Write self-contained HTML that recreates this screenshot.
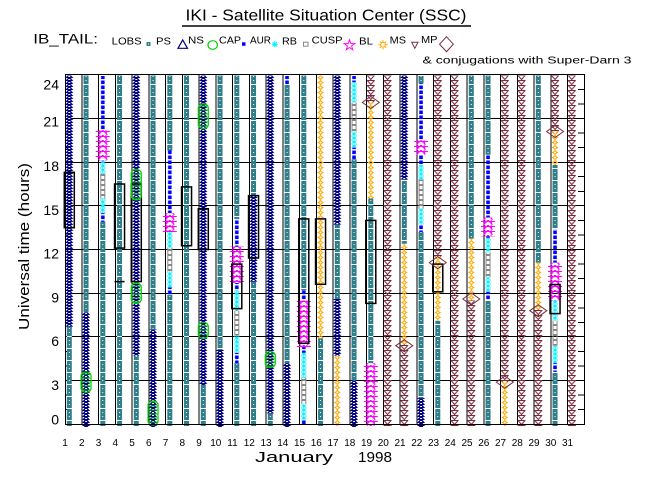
<!DOCTYPE html>
<html><head><meta charset="utf-8"><style>
html,body{margin:0;padding:0;background:#fff;}
svg{display:block}
.lo{stroke:url(#lo);stroke-width:5;fill:none}
.ns{stroke:url(#ns);stroke-width:8;fill:none}
.au{stroke:url(#au);stroke-width:4;fill:none}
.rb{stroke:url(#rb);stroke-width:6;fill:none}
.cu{stroke:url(#cu);stroke-width:5;fill:none}
.bl{stroke:url(#bl);stroke-width:14;fill:none}
.ms{stroke:url(#ms);stroke-width:7;fill:none}
.mp{stroke:url(#mp);stroke-width:8;fill:none}
.cap{fill:url(#cp);stroke:#00d000;stroke-width:1.2}
.box{fill:none;stroke:#000;stroke-width:1.5}
.dm{fill:none;stroke:#7a2a3a;stroke-width:1}
text{font-family:"Liberation Sans",sans-serif;fill:#000}
</style></head><body>
<svg width="650" height="500" viewBox="0 0 650 500" xmlns="http://www.w3.org/2000/svg">
<defs>
<pattern id="lo" patternUnits="userSpaceOnUse" x="-2.5" y="0" width="5" height="12">
<rect width="5" height="12" fill="#2f7f8a"/><rect width="5" height="1" fill="#fff"/>
<rect x="2" y="4" width="1" height="1" fill="#fff"/><rect x="2" y="8" width="1" height="1" fill="#fff"/>
</pattern>
<pattern id="ns" patternUnits="userSpaceOnUse" x="-4" y="0" width="8" height="3">
<path d="M0,3 L2.5,0 H5.5 L8,3 Z" fill="#000080"/><rect x="3" y="1" width="2" height="1" fill="#fff"/>
</pattern>
<pattern id="au" patternUnits="userSpaceOnUse" x="-2" y="0" width="4" height="5">
<rect x="0.2" y="0.5" width="3.6" height="3.6" fill="#0000ff"/>
</pattern>
<pattern id="rb" patternUnits="userSpaceOnUse" x="-3" y="0" width="6" height="4">
<path d="M0.5,0.5 L5.5,3.5 M5.5,0.5 L0.5,3.5 M3,0 V4" stroke="#00eeff" stroke-width="1" fill="none"/>
</pattern>
<pattern id="cu" patternUnits="userSpaceOnUse" x="-2.5" y="0" width="5" height="5">
<rect x="0.5" y="0.5" width="4" height="4" fill="none" stroke="#888" stroke-width="1"/>
</pattern>
<pattern id="bl" patternUnits="userSpaceOnUse" x="-7" y="0" width="14" height="5">
<path d="M0,1.5 H14 M2.5,5 L7,0 L11.5,5 M4,0 L3,5 M10,0 L11,5" stroke="#ff00ff" stroke-width="1" fill="none"/>
</pattern>
<pattern id="ms" patternUnits="userSpaceOnUse" x="-3.5" y="0" width="7" height="5">
<circle cx="3.5" cy="2.5" r="1.5" fill="none" stroke="#ffaa00" stroke-width="1"/>
<path d="M3.5,0 V1 M3.5,4 V5 M0.5,2.5 H2 M5,2.5 H6.5" stroke="#ffaa00" stroke-width="1"/>
</pattern>
<pattern id="mp" patternUnits="userSpaceOnUse" x="-4" y="0" width="8" height="5">
<path d="M0.5,0.5 H7.5 L4,4.5 Z" fill="none" stroke="#7a2a3a" stroke-width="1"/>
<path d="M4,4.5 V5" stroke="#7a2a3a" stroke-width="1"/>
</pattern>
<pattern id="cp" patternUnits="userSpaceOnUse" x="0" y="0" width="10" height="4">
<rect y="1.5" width="10" height="1" fill="#00d000"/>
</pattern>
</defs>

<!-- title -->
<text x="185.5" y="20.7" font-size="16" textLength="281" lengthAdjust="spacingAndGlyphs">IKI - Satellite Situation Center (SSC)</text>
<path d="M182,26H471" stroke="#000" stroke-width="1.5"/>
<text x="33.3" y="43.3" font-size="14" textLength="64.7" lengthAdjust="spacingAndGlyphs">IB_TAIL:</text>

<!-- legend -->
<g font-size="10">
<text x="111.7" y="44.3" textLength="30" lengthAdjust="spacingAndGlyphs">LOBS</text>
<text x="156" y="44.3" textLength="15" lengthAdjust="spacingAndGlyphs">PS</text>
<text x="188" y="43.3" textLength="16" lengthAdjust="spacingAndGlyphs">NS</text>
<text x="219" y="43.3" textLength="22" lengthAdjust="spacingAndGlyphs">CAP</text>
<text x="250" y="43.3" textLength="21" lengthAdjust="spacingAndGlyphs">AUR</text>
<text x="282" y="44.3" textLength="15" lengthAdjust="spacingAndGlyphs">RB</text>
<text x="311.7" y="43.3" textLength="30.8" lengthAdjust="spacingAndGlyphs">CUSP</text>
<text x="359" y="44.3" textLength="14" lengthAdjust="spacingAndGlyphs">BL</text>
<text x="389.6" y="43.3" textLength="16.4" lengthAdjust="spacingAndGlyphs">MS</text>
<text x="421" y="42.8" textLength="16.5" lengthAdjust="spacingAndGlyphs">MP</text>
<text x="422.5" y="63.5" textLength="209" lengthAdjust="spacingAndGlyphs">&amp; conjugations with Super-Darn 3</text>
</g>
<rect x="146.5" y="42" width="4" height="4" fill="#2f7f8a"/><rect x="148" y="43.5" width="1" height="1" fill="#fff"/>
<path d="M178,48.3 L182.7,40 L187.5,48.3 Z" fill="none" stroke="#000080" stroke-width="1.2"/>
<ellipse cx="212.7" cy="45" rx="4.7" ry="4.3" fill="none" stroke="#00d000" stroke-width="1.2"/>
<rect x="242" y="42.3" width="3.5" height="3.5" fill="#0000ff"/>
<path d="M271.8,44.3H277.8 M274.8,41.3V47.3 M272.6,42.1 L277,46.5 M277,42.1 L272.6,46.5" stroke="#00eeff" stroke-width="1"/>
<rect x="303.5" y="42.2" width="4.5" height="4" fill="none" stroke="#888" stroke-width="1"/>
<path d="M349.5,39.8 L350.79,43.52 L354.73,43.6 L351.59,45.98 L352.73,49.75 L349.5,47.5 L346.27,49.75 L347.41,45.98 L344.27,43.6 L348.21,43.52 Z" fill="none" stroke="#ff00ff" stroke-width="1"/>
<circle cx="383" cy="44.7" r="2.3" fill="none" stroke="#ffaa00" stroke-width="1"/>
<path d="M383,40V42 M383,47.4V49.4 M378.3,44.7H380.5 M385.5,44.7H387.7 M379.8,41.5L381.2,42.9 M384.8,46.5L386.2,47.9 M386.2,41.5L384.8,42.9 M381.2,46.5L379.8,47.9" stroke="#ffaa00" stroke-width="1"/>
<path d="M411.7,42.3 H418 L414.8,48.3 Z" fill="none" stroke="#7a2a3a" stroke-width="1"/>
<path d="M439.6,44.2 L446.5,36.7 L453.3,44.2 L446.5,51.7 Z" fill="none" stroke="#7a2a3a" stroke-width="1"/>

<!-- grid -->
<g stroke="#000" stroke-width="1" shape-rendering="crispEdges" fill="none">
<path d="M65,118.5H584 M65,162.5H584 M65,205.5H584 M65,249.5H584 M65,293.5H584 M65,336.5H584 M65,380.5H584"/>
<path d="M81.75,74.5V424.5 M98.5,74.5V424.5 M115.25,74.5V424.5 M132,74.5V424.5 M148.75,74.5V424.5 M165.5,74.5V424.5 M182.25,74.5V424.5 M199,74.5V424.5 M215.75,74.5V424.5 M232.5,74.5V424.5 M249.25,74.5V424.5 M266,74.5V424.5 M282.75,74.5V424.5 M299.5,74.5V424.5 M316.25,74.5V424.5 M333,74.5V424.5 M349.75,74.5V424.5 M366.5,74.5V424.5 M383.25,74.5V424.5 M400,74.5V424.5 M416.75,74.5V424.5 M433.5,74.5V424.5 M450.25,74.5V424.5 M467,74.5V424.5 M483.75,74.5V424.5 M500.5,74.5V424.5 M517.25,74.5V424.5 M534,74.5V424.5 M550.75,74.5V424.5 M567.5,74.5V424.5"/>
<path d="M65,409.7H71 M65,395.2H71 M65,366H71 M65,351.5H71 M65,322.4H71 M65,307.8H71 M65,278.7H71 M65,264.1H71 M65,235H71 M65,220.4H71 M65,191.3H71 M65,176.7H71 M65,147.6H71 M65,133H71 M65,103.9H71 M65,89.3H71"/>
<path d="M578,409.7H584 M578,395.2H584 M578,366H584 M578,351.5H584 M578,322.4H584 M578,307.8H584 M578,278.7H584 M578,264.1H584 M578,235H584 M578,220.4H584 M578,191.3H584 M578,176.7H584 M578,147.6H584 M578,133H584 M578,103.9H584 M578,89.3H584"/>
</g>

<!-- data columns -->
<g transform="translate(69.3,0)"><path class="ns" d="M0,75.5V326.7"/><path class="lo" d="M0,326.7V426"/><rect class="box" x="-5" y="172.3" width="10" height="55.4"/></g>
<g transform="translate(86.05,0)"><path class="lo" d="M0,75.5V312.2"/><path class="ns" d="M0,312.2V427"/><rect class="cap" x="-5" y="371.9" width="10" height="20.4" rx="5" ry="4"/></g>
<g transform="translate(102.8,0)"><path class="au" d="M0,76V130.1M0,213.1V221.9"/><path class="bl" d="M0,130.1V160.7"/><path class="rb" d="M0,160.7V173.8M0,198.5V213.1"/><path class="cu" d="M0,173.8V198.5"/><path class="lo" d="M0,221.9V426"/></g>
<g transform="translate(119.55,0)"><path class="lo" d="M0,75.5V426"/><rect class="box" x="-5" y="184" width="10" height="64.1"/><path d="M-5,281.6H5" stroke="#000" stroke-width="1.5"/></g>
<g transform="translate(136.3,0)"><path class="ns" d="M0,75.5V355.8"/><path class="lo" d="M0,355.8V426"/><rect class="box" x="-5" y="184" width="10" height="97.6"/><rect class="cap" x="-5" y="169.4" width="10" height="30.6" rx="5" ry="4"/><rect class="cap" x="-5" y="283" width="10" height="20.4" rx="5" ry="4"/></g>
<g transform="translate(153.05,0)"><path class="lo" d="M0,75.5V329.6"/><path class="ns" d="M0,329.6V427"/><rect class="cap" x="-5" y="401" width="10" height="24" rx="5" ry="4"/></g>
<g transform="translate(169.8,0)"><path class="lo" d="M0,75.5V150.5M0,294.7V426"/><path class="au" d="M0,150.5V213.1M0,287.4V294.7"/><path class="bl" d="M0,213.1V232"/><path class="rb" d="M0,232V248.1M0,271.4V287.4"/><path class="cu" d="M0,248.1V271.4"/></g>
<g transform="translate(186.55,0)"><path class="lo" d="M0,75.5V426"/><rect class="box" x="-5" y="186.9" width="10" height="58.8"/></g>
<g transform="translate(203.3,0)"><path class="ns" d="M0,75.5V385"/><path class="lo" d="M0,385V426"/><rect class="box" x="-5" y="208.7" width="10" height="40.8"/><rect class="cap" x="-5" y="103.9" width="10" height="24.7" rx="5" ry="4"/><rect class="cap" x="-5" y="322.4" width="10" height="16" rx="5" ry="4"/></g>
<g transform="translate(220.05,0)"><path class="lo" d="M0,75.5V350"/><path class="ns" d="M0,350V427"/></g>
<g transform="translate(236.8,0)"><path class="lo" d="M0,75.5V218.9M0,363.1V426"/><path class="au" d="M0,218.9V246.6M0,283V290.3M0,352.9V363.1"/><path class="bl" d="M0,246.6V283"/><path class="rb" d="M0,290.3V310.7M0,335.5V352.9"/><path class="cu" d="M0,310.7V335.5"/><rect class="box" x="-5" y="264.1" width="10" height="44.5"/></g>
<g transform="translate(253.55,0)"><path class="lo" d="M0,75.5V195.6M0,281.6V426"/><path class="ns" d="M0,195.6V281.6"/><rect class="box" x="-5" y="195.6" width="10" height="62.4"/></g>
<g transform="translate(270.3,0)"><path class="ns" d="M0,75.5V413.4"/><path class="lo" d="M0,413.4V426"/><rect class="cap" x="-5" y="351.5" width="10" height="16" rx="5" ry="4"/></g>
<g transform="translate(287.05,0)"><path class="au" d="M0,76V84.9"/><path class="lo" d="M0,84.9V363.1"/><path class="ns" d="M0,363.1V427"/></g>
<g transform="translate(303.8,0)"><path class="lo" d="M0,75.5V290.3"/><path class="au" d="M0,290.3V300.5M0,347.1V352.9M0,419.9V425"/><path class="bl" d="M0,300.5V347.1"/><path class="rb" d="M0,352.9V377.7M0,403.9V419.9"/><path class="cu" d="M0,377.7V403.9"/><rect class="box" x="-5" y="218.9" width="10" height="124.4"/></g>
<g transform="translate(320.55,0)"><path class="ms" d="M0,75.5V338.4"/><path class="lo" d="M0,338.4V426"/><rect class="box" x="-5" y="218.9" width="10" height="65.4"/></g>
<g transform="translate(337.3,0)"><path class="ns" d="M0,75.5V224.8M0,299V355.8"/><path class="lo" d="M0,224.8V299"/><path class="ms" d="M0,355.8V426"/></g>
<g transform="translate(354.05,0)"><path class="au" d="M0,76V82M0,147.6V159.2"/><path class="rb" d="M0,82V102.4M0,131.5V147.6"/><path class="cu" d="M0,102.4V131.5"/><path class="lo" d="M0,159.2V380.6"/><path class="ns" d="M0,380.6V427"/></g>
<g transform="translate(370.8,0)"><path class="mp" d="M0,75.5V102.4"/><path class="ms" d="M0,102.4V198.5"/><path class="lo" d="M0,198.5V363.1"/><path class="bl" d="M0,363.1V426"/><rect class="box" x="-5" y="220.4" width="10" height="83"/><path class="dm" d="M-8.5,102.4L0,96.4L8.5,102.4L0,108.4Z"/></g>
<g transform="translate(387.55,0)"><path class="mp" d="M0,75.5V426"/></g>
<g transform="translate(404.3,0)"><path class="ns" d="M0,75.5V179.6"/><path class="lo" d="M0,179.6V243.7"/><path class="ms" d="M0,243.7V344.2"/><path class="mp" d="M0,344.2V426"/><path class="dm" d="M-8.5,345.7L0,339.7L8.5,345.7L0,351.7Z"/></g>
<g transform="translate(421.05,0)"><path class="lo" d="M0,76V83.5M0,232V398.1"/><path class="au" d="M0,83.5V140.3M0,154.8V165M0,224.8V232"/><path class="bl" d="M0,140.3V154.8"/><path class="rb" d="M0,165V179.6M0,208.7V224.8"/><path class="cu" d="M0,179.6V208.7"/><path class="ns" d="M0,398.1V427"/></g>
<g transform="translate(437.8,0)"><path class="mp" d="M0,75.5V256.8"/><path class="ms" d="M0,256.8V320.9"/><path class="lo" d="M0,320.9V426"/><rect class="box" x="-5" y="264.1" width="10" height="27.7"/><path class="dm" d="M-8.5,262.6L0,256.6L8.5,262.6L0,268.6Z"/></g>
<g transform="translate(454.55,0)"><path class="mp" d="M0,75.5V426"/></g>
<g transform="translate(471.3,0)"><path class="lo" d="M0,75.5V238.6"/><path class="ms" d="M0,238.6V300.5"/><path class="mp" d="M0,300.5V426"/><path class="dm" d="M-8.5,299L0,293L8.5,299L0,305Z"/></g>
<g transform="translate(488.05,0)"><path class="lo" d="M0,75.5V154.8M0,300.5V426"/><path class="au" d="M0,154.8V217.5M0,236.4V237.9M0,291.8V300.5"/><path class="bl" d="M0,217.5V236.4"/><path class="rb" d="M0,237.9V252.4M0,277.2V291.8"/><path class="cu" d="M0,252.4V277.2"/></g>
<g transform="translate(504.8,0)"><path class="mp" d="M0,75.5V382.1"/><path class="ms" d="M0,382.1V426"/><path class="dm" d="M-8.5,382.1L0,376.1L8.5,382.1L0,388.1Z"/></g>
<g transform="translate(521.55,0)"><path class="mp" d="M0,75.5V426"/></g>
<g transform="translate(538.3,0)"><path class="lo" d="M0,75.5V262.6"/><path class="ms" d="M0,262.6V309.2"/><path class="mp" d="M0,309.2V426"/><path class="dm" d="M-8.5,310.7L0,304.7L8.5,310.7L0,316.7Z"/></g>
<g transform="translate(555.05,0)"><path class="mp" d="M0,75.5V131.5"/><path class="ms" d="M0,131.5V165"/><path class="lo" d="M0,165V229.1M0,371.9V426"/><path class="au" d="M0,229.1V262.6M0,363.1V371.9"/><path class="bl" d="M0,262.6V300.5"/><path class="rb" d="M0,300.5V320.9M0,345.7V363.1"/><path class="cu" d="M0,320.9V345.7"/><rect class="box" x="-5" y="284.5" width="10" height="29.1"/><path class="dm" d="M-8.5,131.5L0,125.5L8.5,131.5L0,137.5Z"/></g>
<g transform="translate(571.8,0)"><path class="mp" d="M0,75.5V426"/></g>

<!-- frame -->
<rect x="65.5" y="74.5" width="519" height="350" fill="none" stroke="#000" stroke-width="1" shape-rendering="crispEdges"/>

<!-- y labels -->
<g font-size="14" text-anchor="end">
<text x="59" y="89.3">24</text>
<text x="59" y="126.7">21</text>
<text x="59" y="171">18</text>
<text x="59" y="215">15</text>
<text x="59" y="258.3">12</text>
<text x="59" y="302.3">9</text>
<text x="59" y="346">6</text>
<text x="59" y="390">3</text>
<text x="59" y="424.3">0</text>
</g>
<text transform="translate(29,246.5) rotate(-90)" font-size="15" text-anchor="middle" textLength="167" lengthAdjust="spacingAndGlyphs">Universal time (hours)</text>

<!-- x labels -->
<g font-size="10" text-anchor="middle">
<text x="65" y="446">1</text><text x="81.75" y="446">2</text><text x="98.5" y="446">3</text><text x="115.25" y="446">4</text><text x="132" y="446">5</text><text x="148.75" y="446">6</text><text x="165.5" y="446">7</text><text x="182.25" y="446">8</text><text x="199" y="446">9</text><text x="215.75" y="446">10</text><text x="232.5" y="446">11</text><text x="249.25" y="446">12</text><text x="266" y="446">13</text><text x="282.75" y="446">14</text><text x="299.5" y="446">15</text><text x="316.25" y="446">16</text><text x="333" y="446">17</text><text x="349.75" y="446">18</text><text x="366.5" y="446">19</text><text x="383.25" y="446">20</text><text x="400" y="446">21</text><text x="416.75" y="446">22</text><text x="433.5" y="446">23</text><text x="450.25" y="446">24</text><text x="467" y="446">25</text><text x="483.75" y="446">26</text><text x="500.5" y="446">27</text><text x="517.25" y="446">28</text><text x="534" y="446">29</text><text x="550.75" y="446">30</text><text x="567.5" y="446">31</text>
</g>
<text x="255" y="462" font-size="15" textLength="78" lengthAdjust="spacingAndGlyphs">January</text>
<text x="358" y="462" font-size="15" textLength="34" lengthAdjust="spacingAndGlyphs">1998</text>
</svg>
</body></html>
